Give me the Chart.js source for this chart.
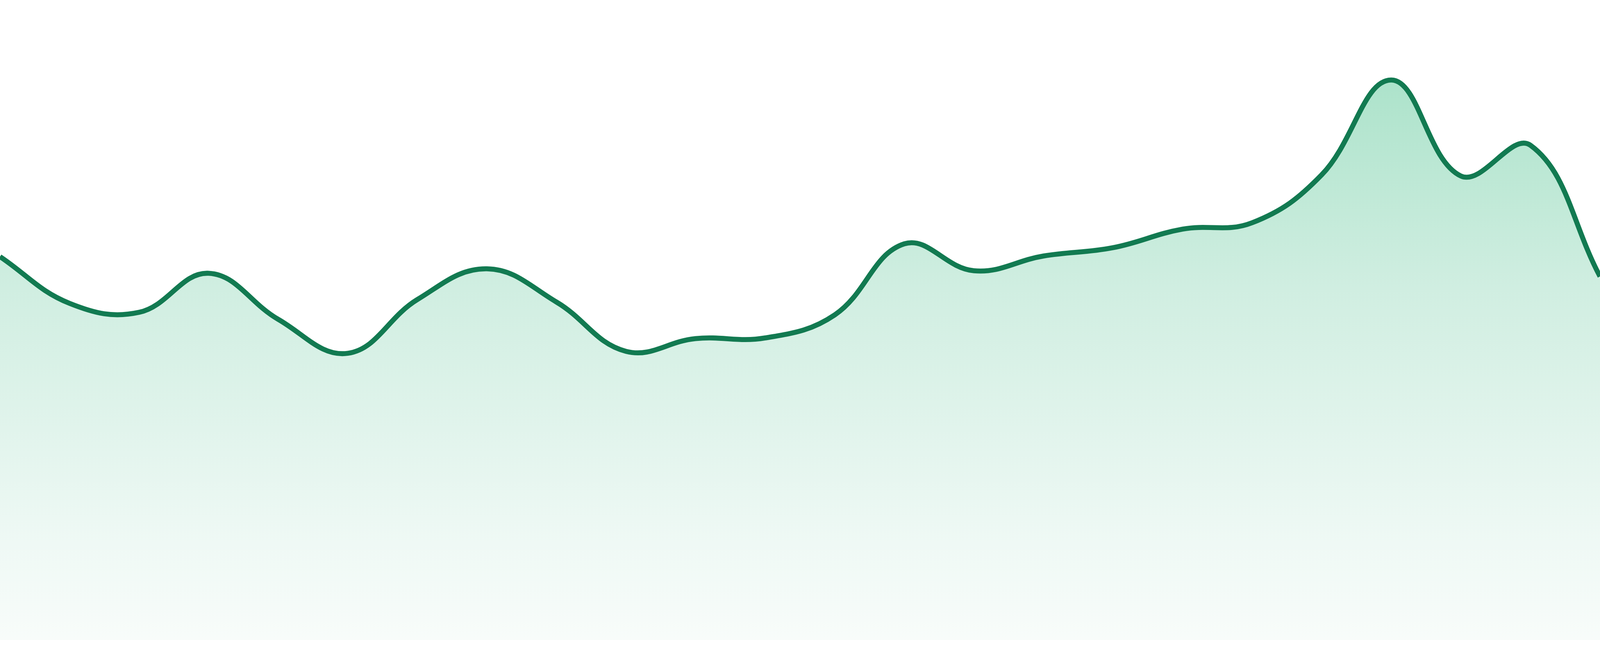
<!DOCTYPE html>
<html>
<head>
<meta charset="utf-8">
<script src="https://cdn.jsdelivr.net/npm/chart.js@4.4.1/dist/chart.umd.min.js"></script>
<style>
  html, body { margin: 0; padding: 0; background: #fff; overflow: hidden; }
  #wrap { width: 100vw; height: 100vh; position: relative; }
</style>
</head>
<body>
<div id="wrap"><canvas id="trend"></canvas></div>
<script>
// Data (no axes shown, so units are relative 0..100)
const labels = ['P1','P2','P3','P4','P5','P6','P7','P8','P9','P10','P11','P12',
                'P13','P14','P15','P16','P17','P18','P19','P20','P21','P22','P23','P24'];
const values = [59.9, 52.6, 51.2, 57.3, 50.1, 44.8, 53.2, 58.0, 52.8, 45.1, 47.1, 47.2,
                50.8, 61.9, 57.7, 60.0, 61.3, 64.2, 65.2, 72.7, 87.5, 72.5, 77.3, 56.8];
const yMin = 0;
const yMax = 100;

const LINE = '#127a51';

// the reference was measured on a 4800px wide picture; convert to css px
const k = window.innerWidth / 4800;

function areaFill(context) {
    const { chart } = context;
    const area = chart.chartArea;
    if (!area) return 'rgba(0,0,0,0)';
    const g = chart.ctx.createLinearGradient(0, area.top, 0, area.bottom);
    g.addColorStop(0, 'rgb(162,222,196)');
    g.addColorStop(0.13, 'rgb(173,227,203)');
    g.addColorStop(0.45, 'rgb(208,238,225)');
    g.addColorStop(0.85, 'rgb(239,249,245)');
    g.addColorStop(1, 'rgb(248,252,250)');
    return g;
}

new Chart(document.getElementById('trend'), {
    type: 'line',
    data: {
        labels: labels,
        datasets: [{
            data: values,
            borderColor: LINE,
            borderWidth: 15 * k,
            backgroundColor: areaFill,
            fill: 'start',
            tension: 0.4,
            pointRadius: 0,
            pointHoverRadius: 0
        }]
    },
    options: {
        responsive: true,
        maintainAspectRatio: false,
        animation: false,
        layout: { padding: { top: 0, left: 0, right: 0, bottom: 48 * k } },
        plugins: { legend: { display: false }, tooltip: { enabled: false } },
        scales: {
            x: { display: false, offset: false },
            y: { display: false, min: yMin, max: yMax }
        }
    }
});
</script>
</body>
</html>
